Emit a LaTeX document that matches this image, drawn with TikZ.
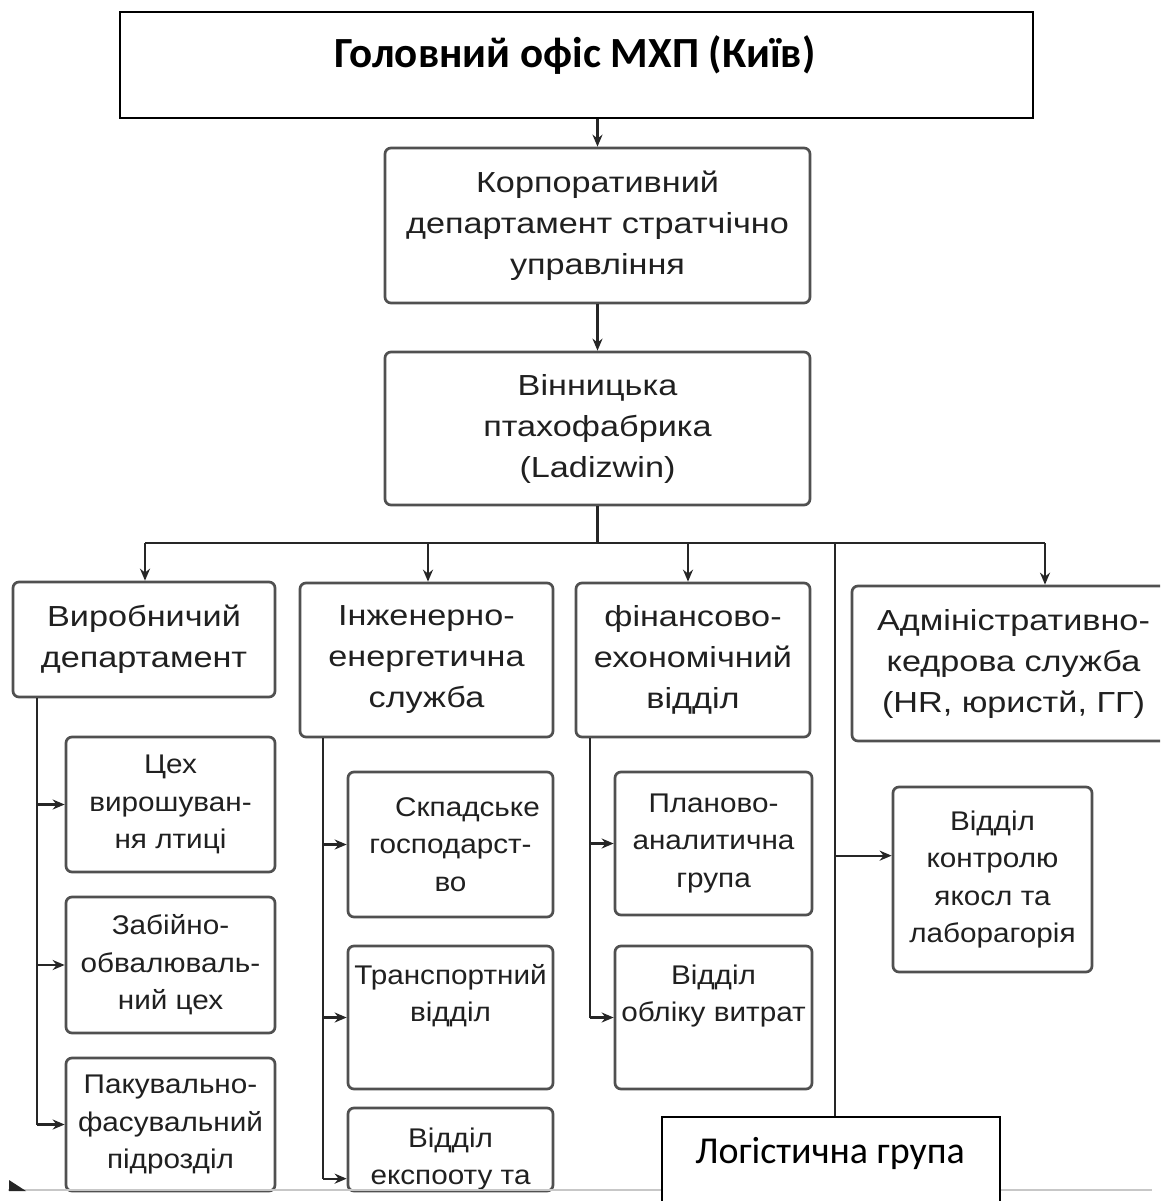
\documentclass[tikz,border=0pt]{standalone}
\usepackage{fontspec}
\setmainfont{Liberation Sans}
\newfontfamily\mainf[FakeStretch=1.18]{Liberation Sans}
\newfontfamily\subf[FakeStretch=1.1]{Liberation Sans}
\newfontfamily\calf{Carlito}
\usetikzlibrary{arrows.meta,calc}
\definecolor{bord}{HTML}{505050}
\definecolor{txt}{HTML}{202020}
\begin{document}
\begin{tikzpicture}[x=1pt,y=-1pt,
  box/.style={draw=bord, line width=2.7pt, rounded corners=6pt, fill=white, text=txt, align=center, inner sep=0pt},
  mainbox/.style={box, font=\mainf\fontsize{29}{41}\selectfont},
  subbox/.style={box, font=\subf\fontsize{27}{37.5}\selectfont},
  conn/.style={draw=black!85, line width=2.3pt},
  arr/.style={conn, -{Stealth[length=12pt,width=10pt]}},
  ]
\useasboundingbox (0,0) rectangle (1160,1201);
\clip (0,0) rectangle (1160,1201);
\fill[white] (0,0) rectangle (1160,1201);

% top box
\node[draw=black, line width=2.5pt, fill=white, minimum width=913pt, minimum height=106pt, inner sep=0pt] (top) at (576.5,65) {};
\node[font=\calf\bfseries\fontsize{43}{46}\selectfont, text=black] (toptxt) at (575,55) {Головний офіс МХП (Київ)};

\node[mainbox, minimum width=425pt, minimum height=155pt] (korp) at (597.5,225.5) {Корпоративний\\департамент стратчічно\\управління};
\node[mainbox, minimum width=425pt, minimum height=153pt] (vin) at (597.5,428.5) {Вінницька\\птахофабрика\\(Ladizwin)};

\node[mainbox, minimum width=262pt, minimum height=115pt] (vd) at (144,639.5) {Виробничий\\департамент};
\node[mainbox, minimum width=253pt, minimum height=154pt] (ie) at (426.5,660) {Інженерно-\\енергетична\\служба};
\node[mainbox, minimum width=234pt, minimum height=154pt] (fin) at (693,660) {фінансово-\\ехономічний\\відділ};
\node[mainbox, minimum width=323pt, minimum height=155pt] (adm) at (1013.5,663.5) {Адміністративно-\\кедрова служба\\(HR, юристй, ГГ)};

\node[subbox, minimum width=209pt, minimum height=135pt] (c1) at (170.5,804.5) {Цех\\вирошуван-\\ня лтиці};
\node[subbox, minimum width=209pt, minimum height=136pt] (c2) at (170.5,965) {Забійно-\\обвалюваль-\\ний цех};
\node[subbox, minimum width=209pt, minimum height=133pt] (c3) at (170.5,1124.5) {Пакувально-\\фасувальний\\підрозділ};

\node[subbox, minimum width=205pt, minimum height=145pt] (s1) at (450.5,844.5) {\hspace*{34pt}Скпадське\\господарст-\\во};
\node[subbox, minimum width=205pt, minimum height=143pt] (s2) at (450.5,1017.5) {Транспортний\\відділ\\\strut};
\node[subbox, minimum width=205pt, minimum height=83pt] (s3) at (450.5,1149.5) {};
\node[font=\subf\fontsize{27}{37.5}\selectfont, text=txt, align=center, inner sep=0pt] (s3txt) at (450.5,1159) {Відділ\\експооту та};

\node[subbox, minimum width=197pt, minimum height=143pt] (f1) at (713.5,843.5) {Планово-\\аналитична\\група};
\node[subbox, minimum width=197pt, minimum height=143pt] (f2) at (713.5,1017.5) {Відділ\\обліку витрат\\\strut};

\node[subbox, minimum width=199pt, minimum height=185pt] (kontr) at (992.5,879.5) {Відділ\\контролю\\якосл та\\лаборагорія};

% connectors
\draw[arr] (korp.north |- top.south) -- (korp.north);
\draw[arr] (korp.south) -- (vin.north);
\coordinate (busL) at (145,543);
\coordinate (b2) at (428,543);
\coordinate (b3) at (688,543);
\coordinate (b5) at (835,543);
\coordinate (busR) at (1045,543);
\draw[conn] (vin.south) -- (vin.south |- busL);
\draw[conn] (busL) -- (busR);
\draw[arr] (busL) -- (busL |- vd.north);
\draw[arr] (b2) -- (b2 |- ie.north);
\draw[arr] (b3) -- (b3 |- fin.north);
\draw[arr] (busR) -- (busR |- adm.north);

\coordinate (lx) at (37,0);
\draw[conn] (vd.south -| lx) -- (lx |- c3.west);
\draw[arr] (lx |- c1.west) -- (c1.west);
\draw[arr] (lx |- c2.west) -- (c2.west);
\draw[arr] (lx |- c3.west) -- (c3.west);

\coordinate (mx) at (323,0);
\coordinate (s3a) at ($(s3.north west)+(0,72)$);
\draw[conn] (ie.south -| mx) -- (mx |- s3a);
\draw[arr] (mx |- s1.west) -- (s1.west);
\draw[arr] (mx |- s2.west) -- (s2.west);
\draw[arr] (mx |- s3a) -- (s3a);

\coordinate (fx) at (590,0);
\draw[conn] (fin.south -| fx) -- (fx |- f2.west);
\draw[arr] (fx |- f1.west) -- (f1.west);
\draw[arr] (fx |- f2.west) -- (f2.west);

\coordinate (ka) at ($(kontr.north west)+(0,70)$);
\draw[arr] (b5 |- ka) -- (ka);

% page edge line and corner mark
\draw[black!22, line width=1.3pt] (8,1190) -- (1152,1190);
\fill[black!85] (9,1180) -- (9,1191) -- (26,1191) -- cycle;

% logistics box
\node[draw=black, line width=2pt, fill=white, minimum width=338pt, minimum height=113pt, inner sep=0pt] (log) at (831,1173.5) {};
\node[font=\calf\fontsize{38}{42}\selectfont, text=black] (logtxt) at (830,1153) {Логістична група};
\draw[conn] (b5) -- (b5 |- log.north);
\end{tikzpicture}
\end{document}
